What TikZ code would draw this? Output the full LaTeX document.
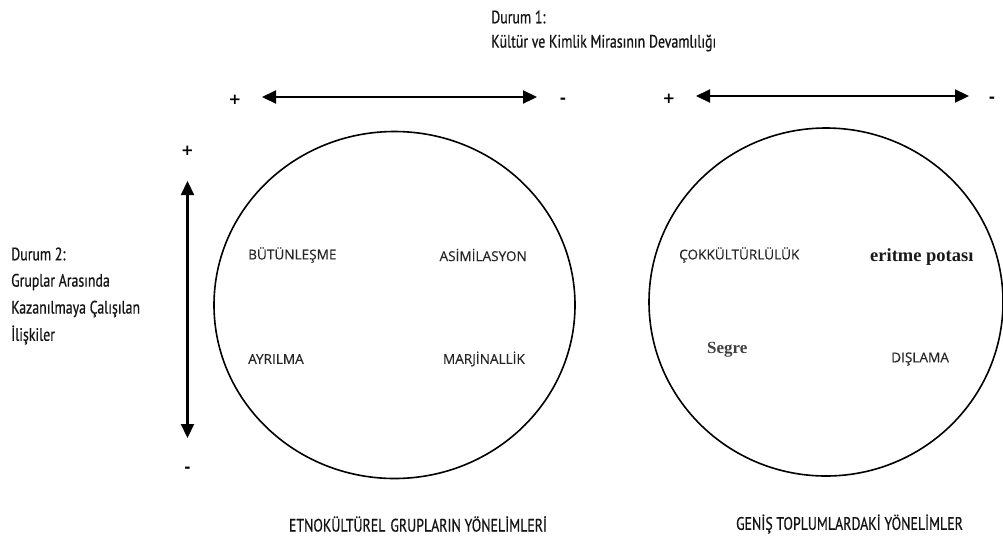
\documentclass[tikz,border=0pt]{standalone}
\usepackage{fontspec}
\usetikzlibrary{arrows.meta}
\newfontfamily\condfont[FakeStretch=0.77,FakeBold=0.6]{PT Sans}
\newfontfamily\labelfont[FakeBold=0.4]{Open Sans}
\newfontfamily\signfont{DejaVu Sans}
\newfontfamily\serifbold{Liberation Serif}
\begin{document}
\begin{tikzpicture}[x=1pt,y=-1pt,
  cond/.style={font=\condfont\fontsize{18}{20}\selectfont, text=black!92, inner sep=0pt},
  quad/.style={font=\labelfont\fontsize{13.6}{15}\selectfont, text=black!85, inner sep=0pt},
  serifq/.style={font=\serifbold\bfseries\fontsize{18.5}{20}\selectfont, text=black!90, inner sep=0pt},
  sign/.style={font=\signfont\bfseries\fontsize{15}{16}\selectfont, inner sep=0pt},
  axis/.style={line width=2.2pt, {Triangle[length=14pt,width=13pt]}-{Triangle[length=14pt,width=13pt]}},
  ring/.style={line width=1.6pt}
]
\useasboundingbox (0,0) rectangle (1003,539);

% headings
\node[cond, anchor=west] (d1a) at (491,17) {Durum 1:};
\node[cond, anchor=west] (d1b) at (491,43) {Kültür ve Kimlik Mirasının Devamlılığı};

\node[cond, anchor=west] (d2a) at (11,254) {Durum 2:};
\node[cond, anchor=west] (d2b) at (11,282) {Gruplar Arasında};
\node[cond, anchor=west] (d2c) at (11,309) {Kazanılmaya Çalışılan};
\node[cond, anchor=west] (d2d) at (11,335) {İlişkiler};

% horizontal axes
\coordinate (h1l) at (262,97);
\coordinate (h1r) at (537,97);
\draw[axis] (h1l) -- (h1r);
\node[sign] (p1) at (235,100) {+};
\node[sign] (m1) at (563,101) {-};

\coordinate (h2l) at (696,96);
\coordinate (h2r) at (969,96);
\draw[axis] (h2l) -- (h2r);
\node[sign] (p2) at (669,99) {+};
\node[sign] (m2) at (992,100) {-};

% vertical axis
\coordinate (vt) at (187.5,181);
\coordinate (vb) at (187.5,438);
\draw[axis] (vt) -- (vb);
\node[sign] (p3) at (187.5,151) {+};
\node[sign] (m3) at (187.5,470) {-};

% circles
\coordinate (c1) at (394.5,305);
\draw[ring] (c1) ellipse [x radius=180.5, y radius=173.5];
\coordinate (c2) at (826,302);
\draw[ring] (c2) ellipse [x radius=177, y radius=174];

% quadrants of the first circle
\node[quad, anchor=west] (q11) at (248,255) {BÜTÜNLEŞME};
\node[quad, anchor=east] (q12) at (527,255) {ASİMİLASYON};
\node[quad, anchor=west] (q13) at (248,359) {AYRILMA};
\node[quad, anchor=east] (q14) at (525,359) {MARJİNALLİK};

% quadrants of the second circle
\node[quad, anchor=west] (q21) at (679,255) {ÇOKKÜLTÜRLÜLÜK};
\node[serifq, anchor=west] (q22) at (870,257) {eritme potası};
\node[serifq, anchor=west, text=black!75, font=\serifbold\bfseries\fontsize{17}{19}\selectfont] (q23) at (707,350) {Segre};
\node[quad, anchor=west] (q24) at (891,359) {DIŞLAMA};

% captions
\node[cond] (cap1) at (418,524) {ETNOKÜLTÜREL\hspace{5pt}GRUPLARIN YÖNELİMLERİ};
\node[cond] (cap2) at (849.5,524) {GENİŞ TOPLUMLARDAKİ YÖNELİMLER};
\end{tikzpicture}
\end{document}
